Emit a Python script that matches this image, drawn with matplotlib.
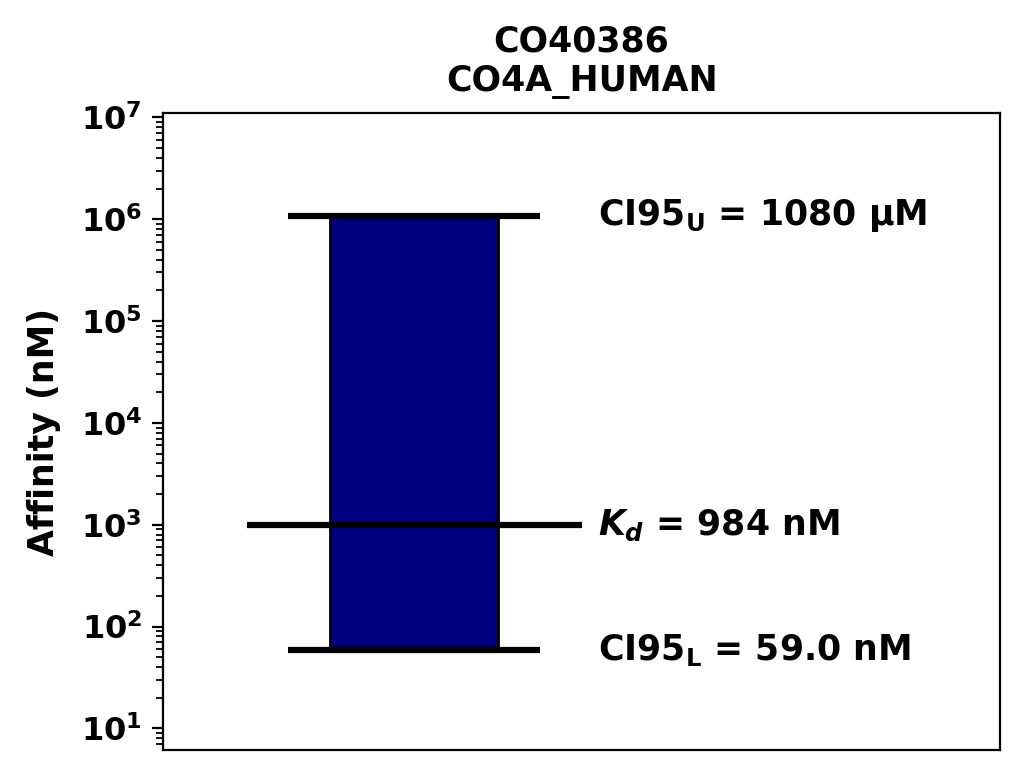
import numpy as np
import matplotlib
matplotlib.use("Agg")
import matplotlib.pyplot as plt

title = "CO40386\nCO4A_HUMAN"
kd = 984.0            # nM
ci_lower = 59.0       # nM
ci_upper = 1080000.0  # nM
label_upper = r"CI95$_\mathrm{\mathbf{U}}$ = 1080 µM"
label_kd = r"$\mathbf{\mathit{K_d}}$ = 984 nM"
label_lower = r"CI95$_\mathrm{\mathbf{L}}$ = 59.0 nM"
yticks = [1e1, 1e2, 1e3, 1e4, 1e5, 1e6, 1e7]

plt.rcParams['font.weight'] = 'bold'
plt.rcParams['mathtext.default'] = 'bf'

fig = plt.figure(figsize=(10.24, 7.75), dpi=100)
ax = fig.add_axes([0.159, 0.032, 0.818, 0.822])

ax.bar(0.3, ci_upper - ci_lower, bottom=ci_lower, width=0.2,
       color='navy', edgecolor='black', linewidth=2)
ax.hlines(ci_upper, 0.15, 0.45, color='black', linewidth=4.5)
ax.hlines(ci_lower, 0.15, 0.45, color='black', linewidth=4.5)
ax.hlines(kd, 0.1, 0.5, color='black', linewidth=4.5)

fs = 25
ax.text(0.52, ci_upper, label_upper, va='center', fontsize=fs, fontweight='bold')
ax.text(0.52, kd, label_kd, va='center', fontsize=fs, fontweight='bold')
ax.text(0.52, ci_lower, label_lower, va='center', fontsize=fs, fontweight='bold')

ax.set_yscale('log')
ax.set_yticks(yticks)
ax.set_ylim(6.1, 1.1e7)
ax.set_xlim(0, 1)
ax.set_xticks([])
ax.set_ylabel("Affinity (nM)", fontsize=fs, fontweight='bold', labelpad=14)
ax.set_title(title, fontsize=fs, fontweight='bold', pad=16)
ax.tick_params(axis='y', labelsize=23, width=1.6, length=8, pad=7)
ax.tick_params(axis='y', which='minor', width=1.3, length=5)
for s in ax.spines.values():
    s.set_linewidth(1.6)

fig.savefig("out.png", dpi=100)
